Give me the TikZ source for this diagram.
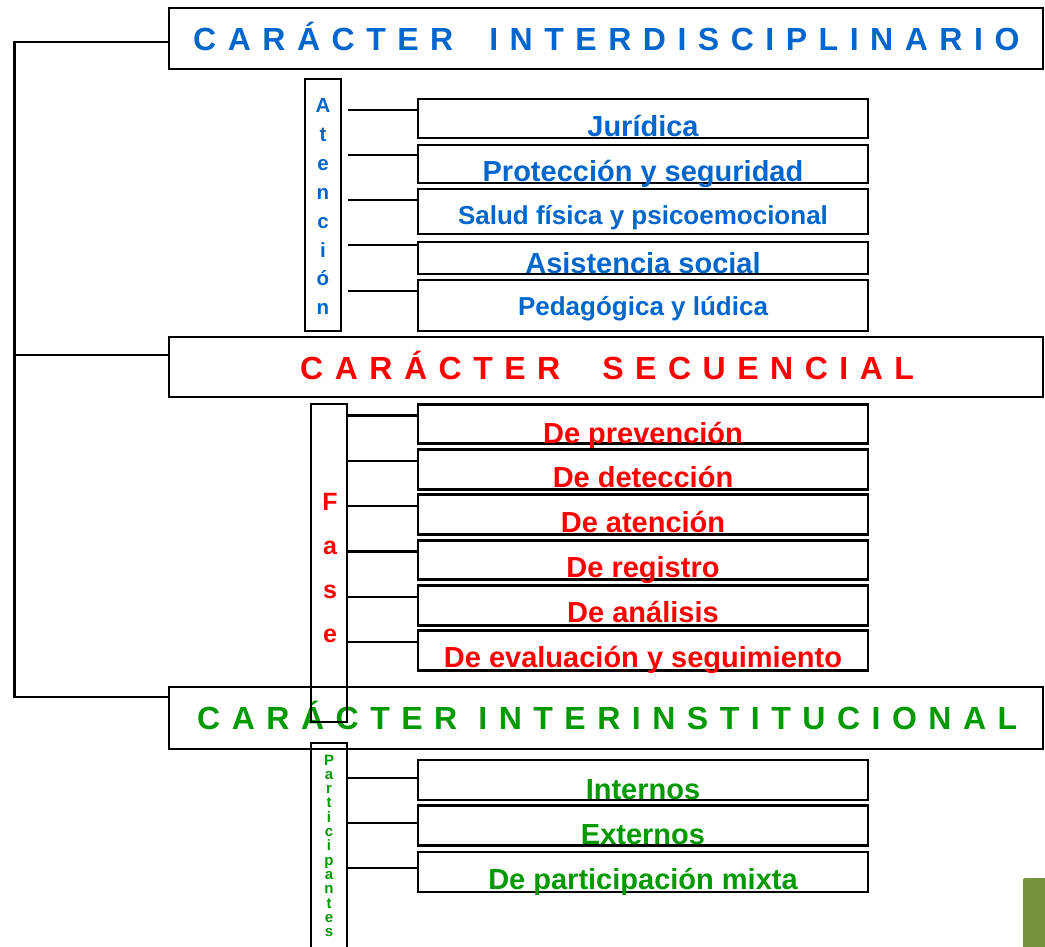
\documentclass[tikz,border=0pt]{standalone}
\usepackage{fontspec}
\setmainfont{Liberation Sans}
\newfontfamily\anchafont[LetterSpace=36]{Liberation Sans}
\usepackage{tikz}
\definecolor{azul}{RGB}{0,102,204}
\definecolor{rojo}{RGB}{255,0,0}
\definecolor{verde}{RGB}{0,153,0}
\definecolor{oliva}{RGB}{119,147,60}

\begin{document}
\begin{tikzpicture}[x=1pt, y=-1pt,
  caja/.style={draw, line width=2.8pt, inner sep=0pt},
  titulo/.style={caja, minimum width=874pt},
  item/.style={caja, minimum width=450pt},
  columna/.style={caja, minimum width=36pt},
  conn/.style={line width=2.5pt},
  titulotxt/.style={anchor=base west, inner sep=0pt, font=\anchafont\bfseries\fontsize{32}{32}\selectfont},
  itemtxt/.style={anchor=base, inner sep=0pt},
  letra/.style={anchor=base, inner sep=0pt}]
  \useasboundingbox (0,0) rectangle (1045,947);
  \clip (0,0) rectangle (1045,947);

  % los tres caracteres
  \node[titulo, minimum height=61pt] (h1) at (606,38.5) {};
  \node[titulo, minimum height=60pt] (h2) at (606,367) {};
  \node[titulo, minimum height=62pt] (h3) at (606,718) {};
  \node[titulotxt, text=azul] (th1) at (193,51) {CARÁCTER\hspace{36pt}INTERDISCIPLINARIO};
  \node[titulotxt, text=rojo] (th2) at (300,379.5) {CARÁCTER\hspace{42pt}SECUENCIAL};
  \node[titulotxt, text=verde] (th3) at (197,729.5) {CARÁCTER\hspace{21pt}INTERINSTITUCIONAL};
  \draw[conn] ([yshift=-3.5pt]h1.west) -- ++(-153,0) |- ([yshift=21pt]h3.west);
  \draw[conn] ([yshift=12pt]h2.west) -- ++(-153,0);

  % atencion
  \node[columna, minimum height=252pt] (atn) at (323,205) {};
  \foreach \l [count=\i] in {A,t,e,n,c,i,ó,n}
    \node[letra, text=azul, font=\bfseries\fontsize{20.5}{20.5}\selectfont] (a\i) at (323,113+28.8*\i-28.8) {\l};
  \foreach \n/\y/\h/\b/\s/\d/\t in {
      jur/118.5/39/137/29/8.5/Jurídica,
      pro/164/38/182/29/9/Protección y seguridad,
      sal/211.5/45/225/26/11.5/Salud física y psicoemocional,
      asi/258/32/273/29/13/Asistencia social,
      ped/305.5/51/315/26/14.5/Pedagógica y lúdica}{
    \node[item, minimum height=\h pt] (\n) at (643,\y) {};
    \node[itemtxt, text=azul, font=\bfseries\fontsize{\s}{\s}\selectfont] (t\n) at (643,\b) {\t};
    \path ([yshift=\d pt]\n.west) coordinate (c\n);
    \draw[conn] (atn.east |- c\n) ++(6,0) -- (c\n);
  }

  % fases
  \node[columna, minimum height=318pt] (fas) at (329,563) {};
  \foreach \l [count=\i] in {F,a,s,e}
    \node[letra, text=rojo, font=\bfseries\fontsize{25}{25}\selectfont] (f\i) at (330,510+44*\i-44) {\l};
  \foreach \n/\y/\b/\t in {
      pre/424/443/De prevención,
      det/469.5/487/De detección,
      ate/514.5/532/De atención,
      reg/560/577/De registro,
      ana/605.5/622/De análisis,
      eva/650.5/667/De evaluación y seguimiento}{
    \node[item, minimum height=39.5pt] (\n) at (643,\y) {};
    \node[itemtxt, text=rojo, font=\bfseries\fontsize{29}{29}\selectfont] (t\n) at (643,\b) {\t};
    \path ([yshift=8.5pt]\n.west) coordinate (c\n);
    \draw[conn] (fas.east |- c\n) -- (c\n);
  }

  % participantes
  \node[columna, minimum height=240pt] (par) at (329,863) {};
  \foreach \l [count=\i] in {P,a,r,t,i,c,i,p,a,n,t,e,s}
    \node[letra, text=verde, font=\bfseries\fontsize{15}{15}\selectfont] (p\i) at (329,765+14.3*\i-14.3) {\l};
  \foreach \n/\y/\b/\d/\t in {
      int/780/799/2/Internos,
      ext/825.5/844/2.5/Externos,
      mix/872/889/4/De participación mixta}{
    \node[item, minimum height=40pt] (\n) at (643,\y) {};
    \node[itemtxt, text=verde, font=\bfseries\fontsize{29}{29}\selectfont] (t\n) at (643,\b) {\t};
    \path ([yshift=\d pt]\n.west) coordinate (c\n);
    \draw[conn] (par.east |- c\n) -- (c\n);
  }

  \fill[oliva, rounded corners=2pt] (1023,878) rectangle (1050,952);
\end{tikzpicture}
\end{document}
